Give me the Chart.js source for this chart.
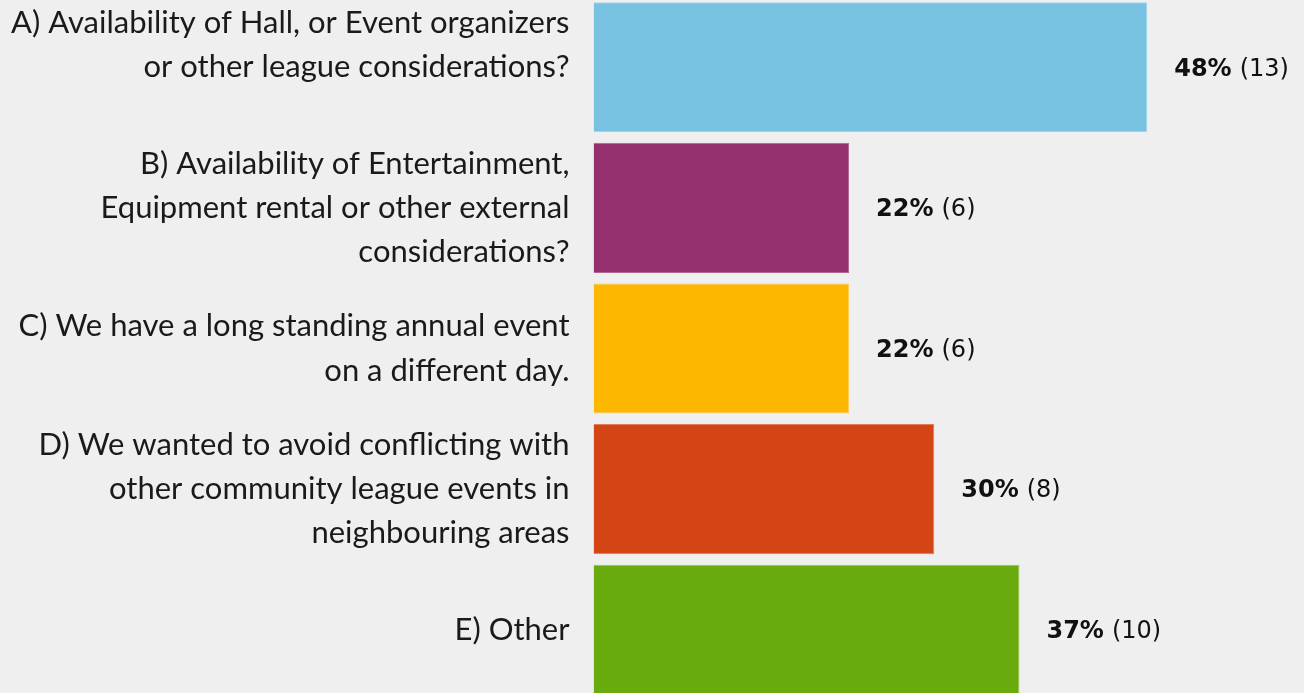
<!DOCTYPE html>
<html>
<head>
<meta charset="utf-8">
<script src="https://cdn.jsdelivr.net/npm/chart.js@4.4.1/dist/chart.umd.min.js"></script>
<style>
	html, body { margin: 0; padding: 0; background: #efefef; overflow: hidden; }
	#wrap { position: absolute; left: 0; top: -3px; width: 1304px; height: 703px; }
</style>
</head>
<body>
<div id="wrap"><canvas id="reasons_chart"></canvas></div>
<script>
// answers (last empty line on A keeps it aligned like the original)
const categories = [
	['A) Availability of Hall, or Event organizers', 'or other league considerations?', ''],
	['B) Availability of Entertainment,', 'Equipment rental or other external', 'considerations?'],
	['C) We have a long standing annual event', 'on a different day.'],
	['D) We wanted to avoid conflicting with', 'other community league events in', 'neighbouring areas'],
	['E) Other']
];
const counts = [13, 6, 6, 8, 10];
const percents = [48, 22, 22, 30, 37];
const bar_colors = ['#77c1e1', '#94306e', '#fdb700', '#d44516', '#69ab0d'];
const bar_borders = ['#9fd3ea', '#b0668f', '#fdcc55', '#e37c5a', '#93c456'];

const value_labels = {
	id: 'value_labels',
	afterDatasetsDraw(chart) {
		const ctx = chart.ctx;
		const meta = chart.getDatasetMeta(0);
		ctx.save();
		ctx.textBaseline = 'middle';
		ctx.textAlign = 'left';
		ctx.fillStyle = '#111';
		meta.data.forEach(function (bar, i) {
			let x = bar.x + 27;
			const y = bar.y + 2;
			ctx.font = 'bold 24px "DejaVu Sans"';
			const pct = percents[i] + '%';
			ctx.fillText(pct, x, y);
			x += ctx.measureText(pct).width + 8;
			ctx.font = '24px "DejaVu Sans"';
			ctx.fillText('(' + counts[i] + ')', x, y);
		});
		ctx.restore();
	}
};

const reasons_chart = new Chart(
		document.getElementById('reasons_chart').getContext('2d'),
		{
			type: 'bar',
			data: {
				labels: categories,
				datasets: [{
						data: counts,
						backgroundColor: bar_colors,
						borderColor: bar_borders,
						borderWidth: 1,
						barPercentage: 0.925,
						categoryPercentage: 1
					}]
			},
			options: {
				indexAxis: 'y',
				responsive: true,
				maintainAspectRatio: false,
				animation: false,
				layout: {
					padding: { left: 0, right: 29, top: 0, bottom: 0 }
				},
				scales: {
					x: {
						display: false,
						min: 0,
						max: 16
					},
					y: {
						afterFit: function (scale) {
							scale.width = 593.5;
							scale.paddingTop = 0;
							scale.paddingBottom = 0;
						},
						grid: { display: false, drawTicks: false },
						border: { display: false },
						ticks: {
							padding: 24,
							color: '#1a1a1a',
							font: { family: 'Lato', size: 31, lineHeight: 1.43 }
						}
					}
				},
				plugins: {
					legend: { display: false },
					tooltip: { enabled: false }
				}
			},
			plugins: [value_labels],
		}
);
</script>
</body>
</html>
